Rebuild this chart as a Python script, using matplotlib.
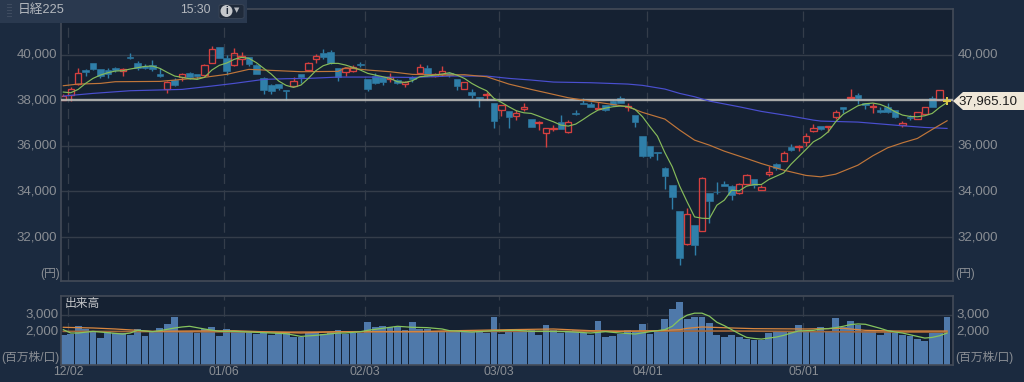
'''
Nikkei 225 daily candles with moving averages and a volume panel
'''
import numpy as np
import matplotlib
matplotlib.use("Agg")
import matplotlib.pyplot as plt
from matplotlib.patches import Polygon, Rectangle, FancyBboxPatch

plt.rcParams['font.family'] = ['Liberation Sans', 'Noto Sans CJK JP', 'DejaVu Sans']

# candles, one row of values per bar index 0..119
opens = [38020, 38220, 38700, 39310, 39610, 39350, 39320, 39390, 39290, 39890,
         39610, 39500, 39540, 39150, 38490, 38880, 39000, 39190, 39150, 39100,
         39630, 40330, 39830, 39540, 39800, 39900, 39540, 38980, 38680, 38700,
         38440, 38630, 39140, 39320, 39790, 40050, 40090, 39390, 39250, 39290,
         39590, 38920, 39050, 39000, 38940, 38880, 38720, 39030, 39200, 39410,
         39060, 39145, 39170, 38925, 38485, 38355, 38120, 38210, 37857, 37564,
         37520, 37300, 37590, 37170, 36990, 36540, 36730, 37050, 36585, 37440,
         37870, 37815, 37610, 37780, 37975, 38075, 37710, 37360, 36435, 35985,
         35730, 35030, 34272, 33130, 31680, 32516, 32282, 33920, 33990, 34345,
         34230, 33935, 34315, 34550, 34066, 34755, 35180, 35340, 35955, 35925,
         36145, 36627, 36875, 36820, 37243, 37680, 38105, 38208, 37860, 37710,
         37565, 37710, 37565, 36906, 37250, 37185, 37390, 38076, 38000, 37960]
highs = [38280, 38560, 39420, 39360, 39620, 39360, 39390, 39470, 39390, 40080,
         39710, 39570, 39760, 39390, 38820, 38950, 39170, 39250, 39150, 39580,
         40370, 40340, 39980, 40270, 40100, 39910, 39570, 39000, 38690, 38720,
         38450, 39030, 39150, 39690, 40020, 40240, 40200, 39400, 39390, 39550,
         39690, 38930, 39170, 39000, 39170, 38910, 38850, 39060, 39570, 39540,
         39200, 39490, 39220, 38930, 38790, 38490, 38150, 38370, 37870, 37790,
         37530, 37564, 37857, 37180, 37080, 36780, 36905, 37330, 37125, 37550,
         38105, 37930, 37930, 37800, 38000, 38190, 37885, 37370, 36440, 35990,
         35740, 35050, 34280, 33130, 33250, 32520, 34610, 33920, 34420, 34450,
         34270, 34350, 34755, 34560, 34300, 35105, 35225, 35780, 36070, 36015,
         36540, 36935, 36880, 36880, 37565, 37690, 38486, 38295, 37870, 37855,
         37680, 37885, 37570, 37080, 37345, 37500, 37690, 38180, 38440, 38000]
lows = [37990, 37980, 38660, 39060, 39320, 38950, 38950, 39250, 39070, 39790,
        39320, 39350, 39290, 39000, 38320, 38630, 38850, 38930, 38910, 39060,
        39610, 39840, 39100, 39510, 39540, 39500, 39150, 38250, 38250, 38440,
        38000, 38620, 38730, 39290, 39640, 39800, 39580, 38850, 39070, 39250,
        39440, 38380, 38700, 38660, 38810, 38710, 38590, 38810, 39170, 39050,
        39030, 39060, 39030, 38440, 38480, 38075, 37710, 38000, 36790, 37315,
        36790, 37125, 37535, 36810, 36670, 35955, 36640, 36715, 36570, 37330,
        37810, 37710, 37590, 37540, 37755, 37855, 37535, 36830, 35515, 35470,
        35370, 34100, 33220, 30790, 31640, 31230, 32280, 32620, 33875, 34225,
        33610, 33900, 34300, 34170, 34060, 34665, 34930, 35325, 35780, 35765,
        35985, 36610, 36700, 36600, 37170, 37420, 38105, 37830, 37610, 37445,
        37420, 37420, 37230, 36830, 37125, 37180, 37380, 37680, 37990, 37930]
closes = [38200, 38480, 39200, 39230, 39360, 39070, 39140, 39300, 39360, 39860,
          39390, 39390, 39350, 39060, 38810, 38660, 39130, 39000, 39060, 39550,
          40240, 39850, 39280, 40050, 39950, 39570, 39160, 38440, 38410, 38540,
          38400, 38860, 39000, 39640, 39930, 39900, 39610, 39000, 39390, 39460,
          39560, 38470, 38730, 38790, 39000, 38730, 38790, 38910, 39440, 39110,
          39130, 39260, 39085, 38630, 38780, 38220, 38100, 38265, 37095, 37780,
          37270, 37418, 37710, 36820, 37050, 36770, 36790, 36745, 37050, 37400,
          37815, 37710, 37650, 37565, 37780, 37870, 37755, 37050, 35560, 35560,
          35700, 34696, 33760, 31080, 33000, 31640, 34565, 33570, 33960, 34240,
          33860, 34345, 34725, 34270, 34185, 34840, 35005, 35676, 35810, 36010,
          36435, 36800, 36715, 36877, 37477, 37590, 38150, 38090, 37770, 37755,
          37460, 37490, 37240, 36980, 37220, 37490, 37680, 37680, 38430, 37965]

# short moving average, read at every bar
ma_short = [38354, 38325, 38470, 38734, 38954, 39100, 39203, 39276, 39290, 39364,
            39422, 39480, 39495, 39393, 39217, 39056, 38998, 38939, 38910, 38998,
            39320, 39525, 39627, 39788, 39876, 39832, 39642, 39393, 39144, 38837,
            38647, 38559, 38661, 38954, 39290, 39510, 39612, 39612, 39540, 39437,
            39320, 39173, 39100, 39027, 38954, 38808, 38778, 38852, 39027, 39056,
            39100, 39144, 39203, 39100, 38954, 38734, 38559, 38412, 38076, 37900,
            37710, 37535, 37447, 37418, 37300, 37170, 37052, 36905, 36862, 36950,
            37155, 37374, 37564, 37652, 37710, 37740, 37725, 37593, 37270, 36832,
            36420, 35700, 35077, 34228, 33540, 32882, 32823, 32809, 33394, 33614,
            34052, 34023, 34228, 34301, 34301, 34521, 34667, 34813, 35194, 35516,
            35837, 36174, 36350, 36613, 37052, 37374, 37564, 37755, 37842, 37872,
            37813, 37681, 37491, 37345, 37286, 37272, 37316, 37418, 37681, 37900]

# medium and long averages, read at the bars where they bend
ma_mid_idx = [0, 2, 5, 7, 13, 15, 17, 19, 22, 25, 28, 32, 37, 38, 41, 44, 47, 51, 54, 57,
              60, 63, 65, 68, 70, 73, 76, 78, 81, 83, 85, 87, 89, 92, 94, 97, 100, 102,
              104, 107, 109, 111, 113, 115, 117, 119]
ma_mid = [38632, 38705, 38734, 38808, 38822, 38880, 38940, 39000, 39130, 39350, 39305,
          39247, 39261, 39422, 39320, 39246, 39130, 39100, 39115, 39027, 38705, 38470,
          38325, 38105, 38003, 37857, 37710, 37462, 37170, 36686, 36247, 36027, 35764,
          35442, 35220, 34930, 34700, 34638, 34755, 35150, 35560, 35911, 36130, 36321,
          36716, 37096]
ma_long_idx = [0, 4, 9, 16, 20, 23, 27, 30, 33, 37, 41, 47, 52, 57, 60, 63, 66, 71, 76,
               78, 81, 83, 85, 87, 91, 94, 98, 101, 102, 107, 113, 116, 119]
ma_long = [38179, 38296, 38413, 38471, 38618, 38734, 38910, 38940, 38954, 39012, 39012,
           38997, 39056, 39056, 38954, 38881, 38793, 38764, 38705, 38647, 38486, 38295,
           38149, 37959, 37710, 37506, 37300, 37125, 37082, 37038, 36877, 36803, 36760]

# volume, millions of shares
volume = [1760, 1860, 2300, 2160, 1960, 1600, 1960, 1900, 1900, 1800,
          2160, 1700, 1960, 2200, 2440, 2840, 1960, 2040, 1900, 2140,
          2260, 1740, 2160, 2000, 1960, 1940, 1840, 1960, 1760, 1900,
          1900, 1640, 1640, 1900, 1960, 1840, 1960, 2100, 1840, 1900,
          1900, 2580, 2260, 2340, 2260, 2260, 2100, 2580, 2160, 2160,
          2000, 1940, 2000, 2000, 1960, 1960, 1960, 1900, 2840, 1840,
          2060, 2000, 2100, 2100, 1800, 2360, 2060, 1900, 1960, 2100,
          1900, 1760, 2640, 1640, 1700, 1840, 2100, 1960, 2420, 1860,
          1960, 2760, 3300, 3760, 2760, 2840, 2840, 2520, 1800, 1660,
          1760, 1640, 1540, 1500, 1500, 1900, 1960, 1960, 1960, 2360,
          1960, 2040, 2260, 2040, 2780, 2240, 2620, 2400, 2040, 2040,
          1800, 1960, 1900, 1760, 1700, 1540, 1440, 1900, 1900, 2840]
vol_short_idx = [0, 1, 2, 4, 5, 8, 9, 10, 12, 13, 15, 16, 17, 19, 21, 23, 28, 30, 32, 34, 37,
                 38, 40, 41, 43, 45, 47, 49, 51, 52, 55, 58, 61, 63, 65, 68, 71, 73, 75, 77,
                 79, 81, 82, 83, 84, 85, 86, 87, 88, 89, 90, 91, 92, 93, 94, 95, 96, 97, 98,
                 99, 101, 102, 103, 104, 105, 106, 107, 108, 109, 110, 111, 112, 113, 114,
                 115, 116, 117, 118, 119]
vol_short = [2100, 1900, 1900, 2000, 1960, 1840, 1900, 2060, 1980, 2040, 2200, 2260, 2300,
             2140, 2000, 2000, 1900, 1860, 1700, 1760, 1900, 1900, 1980, 2060, 2180, 2300,
             2240, 2220, 2140, 2040, 1960, 2040, 2060, 2000, 2000, 1980, 1900, 1980, 1900,
             1840, 1980, 2100, 2300, 2700, 2960, 3080, 3080, 2900, 2540, 2340, 2100, 1860,
             1640, 1580, 1540, 1600, 1660, 1760, 1900, 2020, 2060, 2140, 2160, 2220, 2300,
             2400, 2440, 2420, 2300, 2180, 2040, 1960, 1900, 1800, 1700, 1600, 1640, 1740,
             1900]
vol_mid_idx = [0, 4, 7, 10, 12, 17, 23, 28, 32, 37, 48, 53, 60, 66, 71, 75, 80, 83, 84, 86,
               90, 93, 100, 105, 108, 112, 119]
vol_mid = [2240, 2200, 2140, 2060, 2000, 2020, 2040, 1960, 1900, 1980, 1980, 2040, 2100,
           2140, 2040, 2000, 2040, 2100, 2180, 2260, 2200, 2160, 2140, 2180, 2060, 2020, 2020]
vol_long_idx = [0, 30, 60, 90, 110, 119]
vol_long = [2000, 1960, 2000, 2020, 1960, 1960]

date_idx = [1, 22, 41, 59, 79, 100]
date_labels = ["12/02", "01/06", "02/03", "03/03", "04/01", "05/01"]
price_ticks = [32000, 34000, 36000, 38000, 40000]
vol_ticks = [2000, 3000]
last_price = "37,965.10"

OUTER = "#1b2a3f"
PANEL = "#152132"
GRID = "#343d4a"
FRAME = "#434b58"
LABEL = "#8a8e94"
BLUE = "#2f7fa9"
RED = "#d5403f"
W, H = 1024, 382


def panel(left, top, right, bottom):
    # axes rectangle given in image pixels
    return fig.add_axes([left / W, 1 - bottom / H, (right - left) / W, (bottom - top) / H])


fig = plt.figure(figsize=(W / 100, H / 100), dpi=100, facecolor=OUTER)
ax1 = panel(61, 9, 953, 281)
ax2 = panel(61, 296, 953, 365)

x = np.arange(len(opens))
o, hi, lo, c = map(np.array, (opens, highs, lows, closes))
up = c >= o
body_top = np.maximum(o, c)
body_bot = np.minimum(o, c)
cols = [RED if u else BLUE for u in up]

for ax in (ax1, ax2):
    ax.set_facecolor(PANEL)
    ax.set_xlim(-0.31, 119.8)
    for spine in ax.spines.values():
        spine.set_color(FRAME)
        spine.set_linewidth(1.2)
    ax.set_xticks([])
    ax.set_yticks([])
    ax.vlines(np.array(date_idx) - 0.35, 0, 1, transform=ax.get_xaxis_transform(),
              color=GRID, lw=0.9, linestyles=(0, (8, 5)), zorder=1)

# price panel
ax1.set_ylim(30071, 41996)
for t in price_ticks:
    if t != 38000:
        ax1.axhline(t, color=GRID, lw=1.0, zorder=1)
ax1.vlines(x, body_top, hi, color=cols, lw=1.0, zorder=2)
ax1.vlines(x, lo, body_bot, color=cols, lw=1.0, zorder=2)
ax1.bar(x[~up], (body_top - body_bot)[~up], bottom=body_bot[~up], width=0.9,
        color=BLUE, edgecolor=BLUE, lw=0.4, zorder=2)
ax1.bar(x[up], (body_top - body_bot)[up], bottom=body_bot[up], width=0.85,
        facecolor="none", edgecolor=RED, lw=0.95, zorder=2)
ax1.axhline(38000, color="#b9b9b6", lw=1.7, alpha=0.9, zorder=3)
ax1.plot(ma_long_idx, ma_long, color="#4a4fd0", lw=0.85, zorder=4)
ax1.plot(ma_mid_idx, ma_mid, color="#c0763a", lw=0.85, zorder=4)
ax1.plot(x, ma_short, color="#86bb5a", lw=0.85, zorder=5)
ax1.plot(x[-1], closes[-1], marker="P", ms=6, color="#d8c84a", mew=0, zorder=6)

for t in price_ticks:
    txt = f"{t:,}"
    ax1.text(-0.004, t, txt, transform=ax1.get_yaxis_transform(), ha="right", va="center",
             fontsize=9.5, color=LABEL)
    if t != 38000:
        ax1.text(1.005, t, txt, transform=ax1.get_yaxis_transform(), ha="left", va="center",
                 fontsize=9.5, color=LABEL)
fig.text(60 / W, 1 - 274 / H, "(円)", ha="right", va="center", fontsize=8.5, color=LABEL)
fig.text(955 / W, 1 - 274 / H, "(円)", ha="left", va="center", fontsize=8.5, color=LABEL)

# last price flag, corners in image pixels
flag_px = [(953, 101), (963, 92), (1024, 92), (1024, 110), (963, 110)]
fig.add_artist(Polygon([(px / W, 1 - py / H) for px, py in flag_px], closed=True,
                       transform=fig.transFigure, facecolor="#efe7d8", edgecolor="none", zorder=7))
fig.text(958 / W, 1 - 101 / H, last_price, ha="left", va="center", fontsize=9.5,
         color="#1a1a1a", zorder=8)

# volume panel, 3000 sits at y=314.5 in the image
ax2.set_ylim(0, 4100)
ax2.bar(x, volume, width=0.92, color="#4f79aa", zorder=2)
ax2.axhline(3000, color=GRID, lw=1.0, zorder=1)
ax2.plot(vol_long_idx, vol_long, color="#a5683a", lw=1.2, zorder=3)
ax2.plot(vol_mid_idx, vol_mid, color="#d9873f", lw=0.9, zorder=4)
ax2.plot(vol_short_idx, vol_short, color="#86c45e", lw=0.9, zorder=5)
for t in vol_ticks:
    txt = f"{t:,}"
    ax2.text(-0.003, t, txt, transform=ax2.get_yaxis_transform(), ha="right", va="center",
             fontsize=9.5, color=LABEL)
    ax2.text(1.004, t, txt, transform=ax2.get_yaxis_transform(), ha="left", va="center",
             fontsize=9.5, color=LABEL)
fig.text(65 / W, 1 - 304 / H, "出来高", ha="left", va="center", fontsize=8.5, color="#c6c8cb")
fig.text(60 / W, 1 - 357 / H, "(百万株/口)", ha="right", va="center", fontsize=8.5, color=LABEL)
fig.text(955 / W, 1 - 357 / H, "(百万株/口)", ha="left", va="center", fontsize=8.5, color=LABEL)

for i, lab in zip(date_idx, date_labels):
    ax2.text(i - 0.35, -0.02, lab, transform=ax2.get_xaxis_transform(), ha="center", va="top",
             fontsize=8.8, color=LABEL)

# header box in the top left corner
fig.add_artist(Rectangle((0, 1 - 23 / H), 247 / W, 23 / H, transform=fig.transFigure,
                         facecolor="#2a394f", edgecolor="none", zorder=9))
fig.add_artist(FancyBboxPatch((219 / W, 1 - 18.5 / H), 25 / W, 14 / H, transform=fig.transFigure,
                              boxstyle="round,pad=0,rounding_size=0.004", mutation_aspect=1,
                              facecolor="#1f2a3a", edgecolor="#3a4658", lw=0.6, zorder=10))
fig.text(18 / W, 1 - 10 / H, "日経225", ha="left", va="center", fontsize=9.2, color="#b4b8be", zorder=11)
fig.text(195 / W, 1 - 10 / H, "15:30", ha="center", va="center", fontsize=8.8, color="#b4b8be", zorder=11)
fig.text(226.5 / W, 1 - 11 / H, "i", ha="center", va="center", fontsize=7, fontweight="bold",
         color="#1f2a3a", zorder=12,
         bbox=dict(boxstyle="circle,pad=0.1", facecolor="#c4c7cb", edgecolor="none"))
fig.text(237 / W, 1 - 10 / H, "▼", ha="center", va="center", fontsize=5, color="#b4b8be",
         family="DejaVu Sans", zorder=12)
for gy in (5, 8, 11, 14, 17):
    fig.add_artist(Rectangle((7 / W, 1 - gy / H), 5 / W, 1 / H, transform=fig.transFigure,
                             facecolor="#3f4c60", edgecolor="none", zorder=11))

fig.savefig("out.png", dpi=100, facecolor=fig.get_facecolor())
